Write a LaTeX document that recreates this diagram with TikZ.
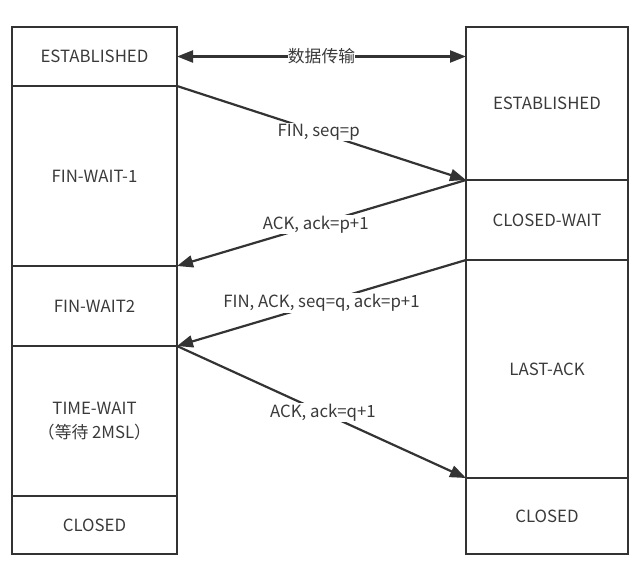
\documentclass[tikz,border=0pt]{standalone}
\usepackage{fontspec}
\setmainfont{Noto Sans CJK SC}
\usetikzlibrary{arrows.meta}
\definecolor{ink}{HTML}{333333}
\definecolor{txt}{HTML}{3A3A3A}
\begin{document}
\begin{tikzpicture}[x=1pt,y=-1pt,
  statebox/.style={draw=ink,line width=2.2pt,rectangle,inner sep=0pt,outer sep=0pt,anchor=north west,text=txt,font=\fontsize{16.8}{20}\selectfont,align=center},
  tip/.tip={Triangle[length=16pt,width=12pt]},
  msg/.style={draw=ink,line width=2.2pt,-tip},
  lbl/.style={fill=white,inner sep=1pt,text=txt,font=\fontsize{16.8}{20}\selectfont}]
\useasboundingbox (0,0) rectangle (642,576);
% left column
\node[statebox,minimum width=165pt,minimum height=59pt] (L1) at (12,27) {ESTABLISHED};
\node[statebox,minimum width=165pt,minimum height=180pt] (L2) at (12,86) {FIN-WAIT-1};
\node[statebox,minimum width=165pt,minimum height=80pt] (L3) at (12,266) {FIN-WAIT2};
\node[statebox,minimum width=165pt,minimum height=150pt] (L4) at (12,346) {TIME-WAIT\\[4pt]（等待 2MSL）};
\node[statebox,minimum width=165pt,minimum height=58pt] (L5) at (12,496) {CLOSED};
% right column
\node[statebox,minimum width=162pt,minimum height=153pt] (R1) at (466,27) {ESTABLISHED};
\node[statebox,minimum width=162pt,minimum height=80pt] (R2) at (466,180) {CLOSED-WAIT};
\node[statebox,minimum width=162pt,minimum height=218pt] (R3) at (466,260) {LAST-ACK};
\node[statebox,minimum width=162pt,minimum height=76pt] (R4) at (466,478) {CLOSED};
% messages
\draw[msg,tip-tip] (L1.east) -- node[lbl,inner sep=0pt] {数据传输} (L1.east -| R1.west);
\draw[msg] (L1.south east) -- node[lbl,pos=0.49] {FIN, seq=p} (R1.south west);
\draw[msg] (R1.south west) -- node[lbl,pos=0.52] {ACK, ack=p+1} (L2.south east);
\draw[msg] (R2.south west) -- node[lbl,pos=0.5] {FIN, ACK, seq=q, ack=p+1} (L3.south east);
\draw[msg] (L3.south east) -- node[lbl,pos=0.505] {ACK, ack=q+1} (R3.south west);
\end{tikzpicture}
\end{document}
